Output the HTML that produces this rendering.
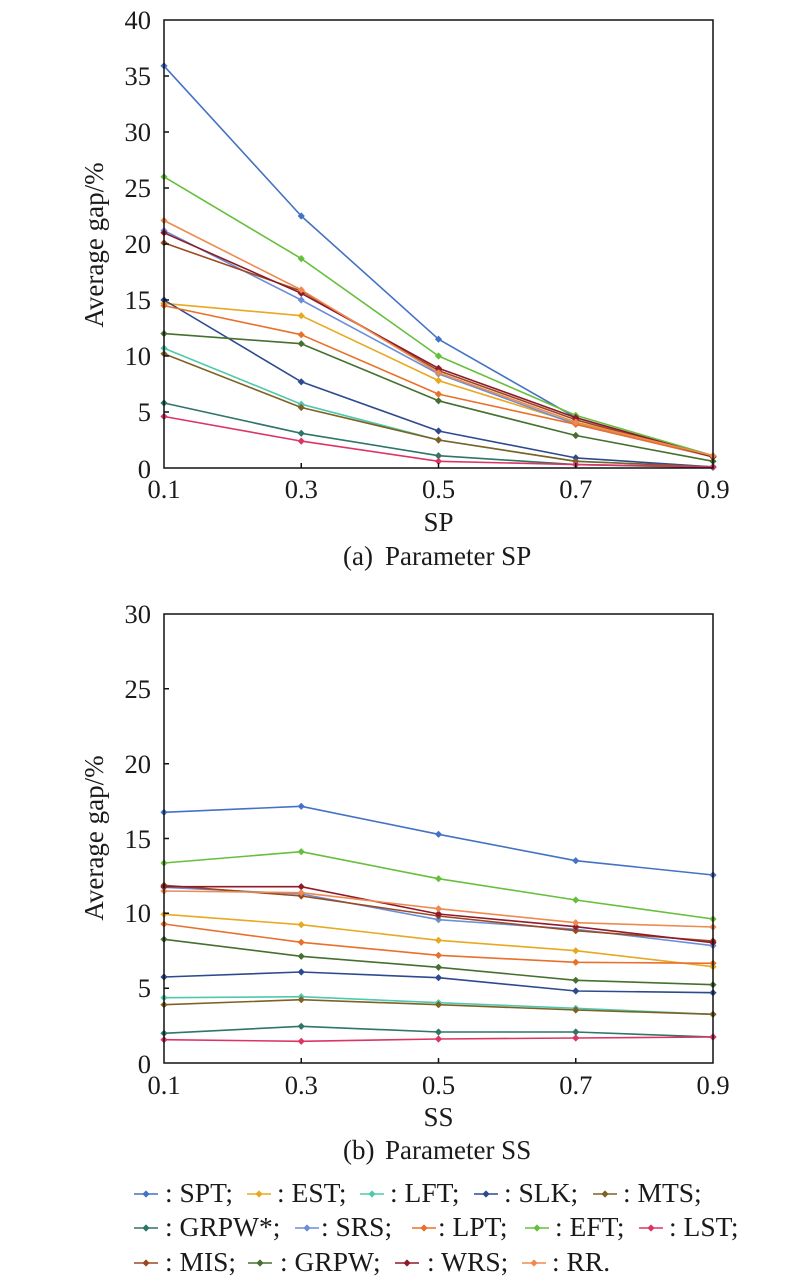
<!DOCTYPE html>
<html>
<head>
<meta charset="utf-8">
<style>
html,body{margin:0;padding:0;background:#fff;}
svg{display:block;}
text{font-family:"Liberation Serif","Times New Roman",serif;fill:#1a1a1a;}
</style>
</head>
<body>
<svg width="800" height="1285" viewBox="0 0 800 1285" xmlns="http://www.w3.org/2000/svg">
<defs>
<marker id="mSPT" viewBox="-4 -4 8 8" markerWidth="8" markerHeight="8" refX="0" refY="0" markerUnits="userSpaceOnUse"><path d="M0,-3.6 L3.6,0 L0,3.6 L-3.6,0Z" fill="#4472C4"/></marker>
<marker id="mEST" viewBox="-4 -4 8 8" markerWidth="8" markerHeight="8" refX="0" refY="0" markerUnits="userSpaceOnUse"><path d="M0,-3.6 L3.6,0 L0,3.6 L-3.6,0Z" fill="#E8A820"/></marker>
<marker id="mLFT" viewBox="-4 -4 8 8" markerWidth="8" markerHeight="8" refX="0" refY="0" markerUnits="userSpaceOnUse"><path d="M0,-3.6 L3.6,0 L0,3.6 L-3.6,0Z" fill="#50C8AC"/></marker>
<marker id="mSLK" viewBox="-4 -4 8 8" markerWidth="8" markerHeight="8" refX="0" refY="0" markerUnits="userSpaceOnUse"><path d="M0,-3.6 L3.6,0 L0,3.6 L-3.6,0Z" fill="#2E4A8E"/></marker>
<marker id="mMTS" viewBox="-4 -4 8 8" markerWidth="8" markerHeight="8" refX="0" refY="0" markerUnits="userSpaceOnUse"><path d="M0,-3.6 L3.6,0 L0,3.6 L-3.6,0Z" fill="#7E6225"/></marker>
<marker id="mGPS" viewBox="-4 -4 8 8" markerWidth="8" markerHeight="8" refX="0" refY="0" markerUnits="userSpaceOnUse"><path d="M0,-3.6 L3.6,0 L0,3.6 L-3.6,0Z" fill="#2F7568"/></marker>
<marker id="mSRS" viewBox="-4 -4 8 8" markerWidth="8" markerHeight="8" refX="0" refY="0" markerUnits="userSpaceOnUse"><path d="M0,-3.6 L3.6,0 L0,3.6 L-3.6,0Z" fill="#6A8FD9"/></marker>
<marker id="mLPT" viewBox="-4 -4 8 8" markerWidth="8" markerHeight="8" refX="0" refY="0" markerUnits="userSpaceOnUse"><path d="M0,-3.6 L3.6,0 L0,3.6 L-3.6,0Z" fill="#E8702A"/></marker>
<marker id="mEFT" viewBox="-4 -4 8 8" markerWidth="8" markerHeight="8" refX="0" refY="0" markerUnits="userSpaceOnUse"><path d="M0,-3.6 L3.6,0 L0,3.6 L-3.6,0Z" fill="#66BF3C"/></marker>
<marker id="mLST" viewBox="-4 -4 8 8" markerWidth="8" markerHeight="8" refX="0" refY="0" markerUnits="userSpaceOnUse"><path d="M0,-3.6 L3.6,0 L0,3.6 L-3.6,0Z" fill="#DC3565"/></marker>
<marker id="mMIS" viewBox="-4 -4 8 8" markerWidth="8" markerHeight="8" refX="0" refY="0" markerUnits="userSpaceOnUse"><path d="M0,-3.6 L3.6,0 L0,3.6 L-3.6,0Z" fill="#9A4A22"/></marker>
<marker id="mGRP" viewBox="-4 -4 8 8" markerWidth="8" markerHeight="8" refX="0" refY="0" markerUnits="userSpaceOnUse"><path d="M0,-3.6 L3.6,0 L0,3.6 L-3.6,0Z" fill="#46702F"/></marker>
<marker id="mWRS" viewBox="-4 -4 8 8" markerWidth="8" markerHeight="8" refX="0" refY="0" markerUnits="userSpaceOnUse"><path d="M0,-3.6 L3.6,0 L0,3.6 L-3.6,0Z" fill="#8E1B2A"/></marker>
<marker id="mRR" viewBox="-4 -4 8 8" markerWidth="8" markerHeight="8" refX="0" refY="0" markerUnits="userSpaceOnUse"><path d="M0,-3.6 L3.6,0 L0,3.6 L-3.6,0Z" fill="#EE8A50"/></marker>
</defs>

<!-- ================= TOP CHART ================= -->
<g fill="none" stroke-width="1.6" stroke-linejoin="round">
<polyline stroke="#4472C4" marker-start="url(#mSPT)" marker-mid="url(#mSPT)" marker-end="url(#mSPT)" points="164,65.9 301.25,216 438.5,339.2 575.75,417.6 713,456.8"/>
<polyline stroke="#E8A820" marker-start="url(#mEST)" marker-mid="url(#mEST)" marker-end="url(#mEST)" points="164,303.4 301.25,315.7 438.5,380.6 575.75,423.2 713,456.8"/>
<polyline stroke="#50C8AC" marker-start="url(#mLFT)" marker-mid="url(#mLFT)" marker-end="url(#mLFT)" points="164,348.2 301.25,404.2 438.5,440 575.75,461.3 713,466.9"/>
<polyline stroke="#2E4A8E" marker-start="url(#mSLK)" marker-mid="url(#mSLK)" marker-end="url(#mSLK)" points="164,300 301.25,381.8 438.5,431 575.75,457.9 713,466.9"/>
<polyline stroke="#7E6225" marker-start="url(#mMTS)" marker-mid="url(#mMTS)" marker-end="url(#mMTS)" points="164,353.8 301.25,407.5 438.5,440 575.75,461.3 713,466.9"/>
<polyline stroke="#2F7568" marker-start="url(#mGPS)" marker-mid="url(#mGPS)" marker-end="url(#mGPS)" points="164,403 301.25,433.3 438.5,455.7 575.75,464.6 713,467.4"/>
<polyline stroke="#6A8FD9" marker-start="url(#mSRS)" marker-mid="url(#mSRS)" marker-end="url(#mSRS)" points="164,230.6 301.25,300 438.5,373.9 575.75,424.3 713,456.8"/>
<polyline stroke="#E8702A" marker-start="url(#mLPT)" marker-mid="url(#mLPT)" marker-end="url(#mLPT)" points="164,305.6 301.25,334.7 438.5,394.1 575.75,424.3 713,456.8"/>
<polyline stroke="#66BF3C" marker-start="url(#mEFT)" marker-mid="url(#mEFT)" marker-end="url(#mEFT)" points="164,176.8 301.25,258.6 438.5,356 575.75,415.4 713,455.7"/>
<polyline stroke="#DC3565" marker-start="url(#mLST)" marker-mid="url(#mLST)" marker-end="url(#mLST)" points="164,416.5 301.25,441.1 438.5,461.3 575.75,464.6 713,466.9"/>
<polyline stroke="#9A4A22" marker-start="url(#mMIS)" marker-mid="url(#mMIS)" marker-end="url(#mMIS)" points="164,242.9 301.25,291 438.5,370.6 575.75,419.8 713,456.8"/>
<polyline stroke="#46702F" marker-start="url(#mGRP)" marker-mid="url(#mGRP)" marker-end="url(#mGRP)" points="164,333.6 301.25,343.7 438.5,400.8 575.75,435.5 713,461.3"/>
<polyline stroke="#8E1B2A" marker-start="url(#mWRS)" marker-mid="url(#mWRS)" marker-end="url(#mWRS)" points="164,232.8 301.25,293.3 438.5,368.3 575.75,417.6 713,456.8"/>
<polyline stroke="#EE8A50" marker-start="url(#mRR)" marker-mid="url(#mRR)" marker-end="url(#mRR)" points="164,220.5 301.25,289.9 438.5,372.8 575.75,422.1 713,455.7"/>
</g>

<!-- top frame & ticks -->
<g stroke="#111" stroke-width="1.5" fill="none">
<rect x="164" y="20" width="549" height="448"/>
<path d="M164,412 h5 M164,356 h5 M164,300 h5 M164,244 h5 M164,188 h5 M164,132 h5 M164,76 h5 M301.25,468 v-5 M438.5,468 v-5 M575.75,468 v-5"/>
</g>
<g font-size="26.5" text-anchor="end">
<text x="151" y="478">0</text>
<text x="151" y="421">5</text>
<text x="151" y="365">10</text>
<text x="151" y="309">15</text>
<text x="151" y="253">20</text>
<text x="151" y="197">25</text>
<text x="151" y="141">30</text>
<text x="151" y="85">35</text>
<text x="151" y="29">40</text>
</g>
<g font-size="26.5" text-anchor="middle">
<text x="164" y="498">0.1</text>
<text x="301.25" y="498">0.3</text>
<text x="438.5" y="498">0.5</text>
<text x="575.75" y="498">0.7</text>
<text x="713" y="498">0.9</text>
<text x="438.5" y="531" font-size="27">SP</text>
</g>
<text transform="translate(103,245) rotate(-90)" font-size="27" text-anchor="middle">Average gap/%</text>
<text x="343" y="565" font-size="27">(a)</text>
<text x="385" y="565" font-size="27">Parameter SP</text>

<!-- ================= BOTTOM CHART ================= -->
<g fill="none" stroke-width="1.6" stroke-linejoin="round">
<polyline stroke="#4472C4" marker-start="url(#mSPT)" marker-mid="url(#mSPT)" marker-end="url(#mSPT)" points="164,812.3 301.25,806.3 438.5,834.3 575.75,860.7 713,875"/>
<polyline stroke="#E8A820" marker-start="url(#mEST)" marker-mid="url(#mEST)" marker-end="url(#mEST)" points="164,914.3 301.25,924.7 438.5,940.3 575.75,950.7 713,966.7"/>
<polyline stroke="#50C8AC" marker-start="url(#mLFT)" marker-mid="url(#mLFT)" marker-end="url(#mLFT)" points="164,997.7 301.25,996.7 438.5,1002.7 575.75,1008.3 713,1014.3"/>
<polyline stroke="#2E4A8E" marker-start="url(#mSLK)" marker-mid="url(#mSLK)" marker-end="url(#mSLK)" points="164,977 301.25,972 438.5,977.7 575.75,991 713,992.7"/>
<polyline stroke="#7E6225" marker-start="url(#mMTS)" marker-mid="url(#mMTS)" marker-end="url(#mMTS)" points="164,1004.7 301.25,999.7 438.5,1004.7 575.75,1010 713,1014.3"/>
<polyline stroke="#2F7568" marker-start="url(#mGPS)" marker-mid="url(#mGPS)" marker-end="url(#mGPS)" points="164,1033.3 301.25,1026.3 438.5,1032 575.75,1032 713,1037"/>
<polyline stroke="#6A8FD9" marker-start="url(#mSRS)" marker-mid="url(#mSRS)" marker-end="url(#mSRS)" points="164,887.3 301.25,894 438.5,919.7 575.75,929.3 713,945.7"/>
<polyline stroke="#E8702A" marker-start="url(#mLPT)" marker-mid="url(#mLPT)" marker-end="url(#mLPT)" points="164,924 301.25,942.3 438.5,955.3 575.75,962.3 713,963.3"/>
<polyline stroke="#66BF3C" marker-start="url(#mEFT)" marker-mid="url(#mEFT)" marker-end="url(#mEFT)" points="164,863 301.25,851.7 438.5,878.7 575.75,900 713,919"/>
<polyline stroke="#DC3565" marker-start="url(#mLST)" marker-mid="url(#mLST)" marker-end="url(#mLST)" points="164,1039.7 301.25,1041.3 438.5,1039 575.75,1038 713,1037"/>
<polyline stroke="#9A4A22" marker-start="url(#mMIS)" marker-mid="url(#mMIS)" marker-end="url(#mMIS)" points="164,885.3 301.25,896 438.5,916 575.75,930.7 713,941"/>
<polyline stroke="#46702F" marker-start="url(#mGRP)" marker-mid="url(#mGRP)" marker-end="url(#mGRP)" points="164,939.3 301.25,956.3 438.5,967.3 575.75,980.3 713,984.7"/>
<polyline stroke="#8E1B2A" marker-start="url(#mWRS)" marker-mid="url(#mWRS)" marker-end="url(#mWRS)" points="164,886.7 301.25,886.7 438.5,914 575.75,926.7 713,942.7"/>
<polyline stroke="#EE8A50" marker-start="url(#mRR)" marker-mid="url(#mRR)" marker-end="url(#mRR)" points="164,891 301.25,892.7 438.5,908.7 575.75,922.7 713,927"/>
</g>

<g stroke="#111" stroke-width="1.5" fill="none">
<rect x="164" y="614" width="549" height="449"/>
<path d="M164,988.2 h5 M164,913.3 h5 M164,838.5 h5 M164,763.7 h5 M164,688.8 h5 M301.25,1063 v-5 M438.5,1063 v-5 M575.75,1063 v-5"/>
</g>
<g font-size="26.5" text-anchor="end">
<text x="151" y="1073">0</text>
<text x="151" y="997">5</text>
<text x="151" y="922">10</text>
<text x="151" y="848">15</text>
<text x="151" y="773">20</text>
<text x="151" y="698">25</text>
<text x="151" y="623">30</text>
</g>
<g font-size="26.5" text-anchor="middle">
<text x="164" y="1094">0.1</text>
<text x="301.25" y="1094">0.3</text>
<text x="438.5" y="1094">0.5</text>
<text x="575.75" y="1094">0.7</text>
<text x="713" y="1094">0.9</text>
<text x="438.5" y="1126" font-size="27">SS</text>
</g>
<text transform="translate(103,838) rotate(-90)" font-size="27" text-anchor="middle">Average gap/%</text>
<text x="343" y="1159" font-size="27">(b)</text>
<text x="385" y="1159" font-size="27">Parameter SS</text>

<!-- ================= LEGEND ================= -->
<g fill="none" stroke-width="1.6">
<polyline stroke="#4472C4" marker-mid="url(#mSPT)" points="134,1194 146,1194 158,1194"/>
<polyline stroke="#E8A820" marker-mid="url(#mEST)" points="247,1194 259,1194 271,1194"/>
<polyline stroke="#50C8AC" marker-mid="url(#mLFT)" points="360,1194 372,1194 384,1194"/>
<polyline stroke="#2E4A8E" marker-mid="url(#mSLK)" points="474,1194 486,1194 498,1194"/>
<polyline stroke="#7E6225" marker-mid="url(#mMTS)" points="593,1194 605,1194 617,1194"/>

<polyline stroke="#2F7568" marker-mid="url(#mGPS)" points="134,1228 146,1228 158,1228"/>
<polyline stroke="#6A8FD9" marker-mid="url(#mSRS)" points="295,1228 307,1228 319,1228"/>
<polyline stroke="#E8702A" marker-mid="url(#mLPT)" points="412,1228 424,1228 436,1228"/>
<polyline stroke="#66BF3C" marker-mid="url(#mEFT)" points="525,1228 537,1228 549,1228"/>
<polyline stroke="#DC3565" marker-mid="url(#mLST)" points="639,1228 651,1228 663,1228"/>

<polyline stroke="#9A4A22" marker-mid="url(#mMIS)" points="134,1263 146,1263 158,1263"/>
<polyline stroke="#46702F" marker-mid="url(#mGRP)" points="248,1263 260,1263 272,1263"/>
<polyline stroke="#8E1B2A" marker-mid="url(#mWRS)" points="395,1263 407,1263 419,1263"/>
<polyline stroke="#EE8A50" marker-mid="url(#mRR)" points="522,1263 534,1263 546,1263"/>
</g>
<g font-size="27.5">
<text x="165" y="1202">: SPT;</text>
<text x="277" y="1202">: EST;</text>
<text x="390" y="1202">: LFT;</text>
<text x="504" y="1202">: SLK;</text>
<text x="623" y="1202">: MTS;</text>

<text x="165" y="1236">: GRPW*;</text>
<text x="321" y="1236">: SRS;</text>
<text x="438" y="1236">: LPT;</text>
<text x="555" y="1236">: EFT;</text>
<text x="669" y="1236">: LST;</text>

<text x="165" y="1271">: MIS;</text>
<text x="280" y="1271">: GRPW;</text>
<text x="427" y="1271">: WRS;</text>
<text x="552" y="1271">: RR.</text>
</g>
</svg>
</body>
</html>
